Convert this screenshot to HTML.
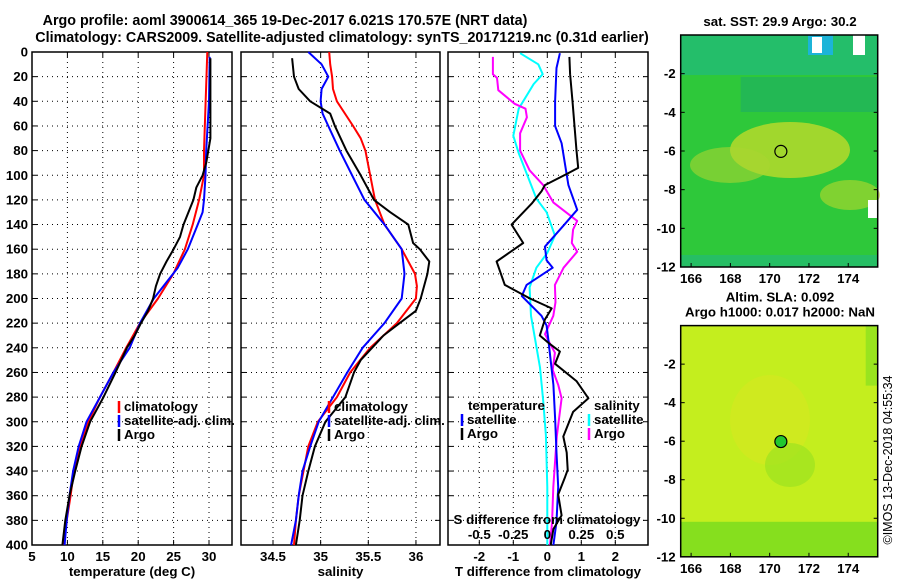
<!DOCTYPE html>
<html><head><meta charset="utf-8"><style>
html,body{margin:0;padding:0;background:#fff;}
svg{display:block;font-family:"Liberation Sans",sans-serif;font-weight:bold;}
</style></head><body>
<svg id="c" width="900" height="580" viewBox="0 0 900 580" xmlns="http://www.w3.org/2000/svg">
<text x="285" y="25" font-size="14.3" text-anchor="middle">Argo profile: aoml 3900614_365 19-Dec-2017 6.021S 170.57E (NRT data)</text>
<text x="342" y="42" font-size="14.3" text-anchor="middle">Climatology: CARS2009. Satellite-adjusted climatology: synTS_20171219.nc (0.31d earlier)</text>
<g id="maps"></g>
<text transform="translate(892,460) rotate(-90)" font-size="12.5" font-weight="normal" text-anchor="middle">©IMOS 13-Dec-2018 04:55:34</text>
</svg>
<script>
// ---- data (depth in m) ----
const tDepthClim=[0,80,100,120,140,160,180,200,220,240,260,280,300,320,340,360,380,400];
const tClim=[29.76,29.3,29.3,28.6,27.7,26.6,24.96,22.8,20.25,18.3,16.5,14.6,12.96,11.8,10.9,10.45,9.9,9.5];
const tDepthSat=[4,40,80,100,120,130,140,160,175,200,220,240,260,280,300,320,340,360,380,400];
const tSat=[30.1,30.0,29.6,29.5,29.3,29.1,28.4,27,25.6,22.2,20.25,18.8,16.5,14.6,12.7,11.6,10.8,10.3,9.9,9.6];
const tDepthArgo=[5,70,90,100,110,120,140,150,160,170,180,190,200,210,220,230,240,260,280,300,320,340,360,380,400];
const tArgo=[30.2,30.2,29.6,29.1,28.2,27.8,26.4,25.9,25,24,23.1,22.5,22.1,21.4,20.4,19.5,18.4,16.8,15.1,13.2,12,11.1,10.3,9.7,9.3];

const sDepthClim=[0,10,20,30,40,60,70,80,100,120,140,160,180,190,200,220,240,260,280,300,320,340,360,380,400];
const sClim=[35.09,35.1,35.12,35.13,35.17,35.34,35.42,35.47,35.52,35.57,35.67,35.85,35.99,36.01,36.0,35.8,35.52,35.31,35.17,34.97,34.87,34.82,34.77,34.74,34.72];
const sDepthSat=[0,10,20,30,40,50,60,80,100,120,140,160,180,200,220,240,260,280,300,320,340,360,380,400];
const sSat=[34.87,35.01,35.08,35.01,35.0,35.02,35.08,35.2,35.33,35.46,35.67,35.85,35.88,35.85,35.67,35.44,35.28,35.13,34.98,34.89,34.81,34.77,34.74,34.69];
const sDepthArgo=[5,20,30,40,50,60,80,100,120,130,140,155,160,170,180,200,210,220,230,250,260,280,300,320,340,360,380,400];
const sArgo=[34.7,34.72,34.77,34.89,35.1,35.15,35.27,35.42,35.56,35.73,35.92,35.97,36.04,36.14,36.12,36.05,36.0,35.83,35.66,35.42,35.35,35.26,35.05,34.94,34.87,34.81,34.78,34.74];

const dtDepthArgo=[4,18,40,80,94,99,108,113,123,140,155,170,189,200,208,217,230,237,243,253,267,281,292,312,325,339,345,359,376,387,400];
const dtArgo=[0.65,0.67,0.74,0.86,0.91,0.57,-0.07,-0.17,-0.46,-1.05,-0.71,-1.49,-1.25,-0.51,0.13,-0.07,-0.22,0.08,0.37,0.23,0.86,1.21,0.76,0.47,0.57,0.6,0.52,0.32,0.42,0.18,0.1];
const dtDepthSat=[1,13,40,60,74,96,108,128,141,158,169,175,189,198,214,222,233,270,297,325,353,381,400];
const dtSat=[0.37,0.27,0.23,0.23,0.42,0.55,0.62,0.88,0.47,-0.07,-0.02,0.16,-0.61,-0.75,-0.17,-0.02,0.03,0.18,0.23,0.27,0.32,0.27,0.18];
const dsDepthSat=[1,10,18,26,46,68,82,102,119,130,149,163,175,191,214,233,256,283,311,353,400];
const dsSat=[-0.2,-0.066,-0.034,-0.1,-0.21,-0.25,-0.21,-0.14,-0.08,-0.005,0.056,0,-0.08,-0.13,-0.12,-0.09,-0.054,-0.03,-0.01,0,0];
const dsDepthArgo=[4,18,21,31,42,46,53,66,80,96,108,122,137,144,155,162,175,189,203,214,229,244,258,270,281,312,353,381,400];
const dsArgo=[-0.4,-0.4,-0.37,-0.36,-0.24,-0.16,-0.15,-0.2,-0.2,-0.13,-0.03,0.044,0.22,0.19,0.18,0.22,0.12,0.056,0.06,0.044,-0.017,0.056,0.04,0.08,0.105,0.07,0.044,0.035,0.02];

const depthTicks=[0,20,40,60,80,100,120,140,160,180,200,220,240,260,280,300,320,340,360,380,400];
const tTicks=[5,10,15,20,25,30];
const sTicks=[34.5,35,35.5,36];
const dtTicks=[-2,-1,0,1,2];
const dsTicks=[-0.5,-0.25,0,0.25,0.5];
const dsTickLabels=["-0.5","-0.25","0","0.25","0.5"];
const latTicks=[-2,-4,-6,-8,-10,-12];
const lonTicks=[166,168,170,172,174];

const NS="http://www.w3.org/2000/svg";
const svg=document.getElementById('c');
const FS=13.3;
function el(tag,attrs,parent,text){const e=document.createElementNS(NS,tag);for(const k in attrs)e.setAttribute(k,attrs[k]);if(text!==undefined)e.textContent=text;(parent||svg).appendChild(e);return e;}

const Y0=52,Y1=545;
const yD=d=>Y0+(Y1-Y0)*d/400;

function panel(name,x0,x1,xmin,xmax,ticks,tickLabels,xlabel,showY){
  const g=el('g',{},svg);
  
  
  const sx=v=>x0+(x1-x0)*(v-xmin)/(xmax-xmin);
  depthTicks.forEach(d=>{
    const l=el('line',{x1:x0,x2:x1,y1:yD(d),y2:yD(d),stroke:'#000','stroke-width':1,'stroke-dasharray':'1,4'},g);
    
    
    el('line',{x1:x0,x2:x0+5,y1:yD(d),y2:yD(d),stroke:'#000'},g);
    el('line',{x1:x1-5,x2:x1,y1:yD(d),y2:yD(d),stroke:'#000'},g);
    if(showY){const t=el('text',{x:x0-4,y:yD(d)+4.5,'font-size':FS,'text-anchor':'end'},g,String(d));
      
      }
  });
  ticks.forEach((v,i)=>{
    const x=sx(v);
    const l=el('line',{x1:x,x2:x,y1:Y0,y2:Y1,stroke:'#000','stroke-width':1,'stroke-dasharray':'1,4'},g);
    
    
    el('line',{x1:x,x2:x,y1:Y1-5,y2:Y1,stroke:'#000'},g);
    el('line',{x1:x,x2:x,y1:Y0,y2:Y0+5,stroke:'#000'},g);
    const t=el('text',{x:x,y:Y1+16,'font-size':FS,'text-anchor':'middle'},g,tickLabels[i]);
    
    
  });
  const r=el('rect',{x:x0,y:Y0,width:x1-x0,height:Y1-Y0,fill:'none',stroke:'#000','stroke-width':1.5},g);
  
  
  const xl=el('text',{x:(x0+x1)/2,y:576,'font-size':FS,'text-anchor':'middle'},g,xlabel);
  
  
  return {g,sx};
}
function series(p,name,depths,vals,color,scale){
  const pts=vals.map((v,i)=>p.sx(v*(scale||1)).toFixed(1)+','+yD(depths[i]).toFixed(1)).join(' ');
  const pl=el('polyline',{points:pts,fill:'none',stroke:color,'stroke-width':2,'stroke-linejoin':'round'},p.g);
  
  
}
function legend(p,x,y,label,color){
  const m=el('line',{x1:x,x2:x,y1:y-10,y2:y+2,stroke:color,'stroke-width':2.5},p.g);
  
  
  const t=el('text',{x:x+5,y:y,'font-size':FS},p.g,label);
  
  
}

const p1=panel('temperature-panel',32,232,5,5+200/7.08,tTicks,tTicks.map(String),'temperature (deg C)',true);
series(p1,'temp-climatology',tDepthClim,tClim,'#f00');
series(p1,'temp-satellite-adj',tDepthSat,tSat,'#00f');
series(p1,'temp-argo',tDepthArgo,tArgo,'#000');
legend(p1,119,411,'climatology','#f00');legend(p1,119,425,'satellite-adj. clim.','#00f');legend(p1,119,439,'Argo','#000');

const p2=panel('salinity-panel',241,440,34.5-32/95.3,34.5+167/95.3,sTicks,sTicks.map(String),'salinity',false);
series(p2,'sal-climatology',sDepthClim,sClim,'#f00');
series(p2,'sal-satellite-adj',sDepthSat,sSat,'#00f');
series(p2,'sal-argo',sDepthArgo,sArgo,'#000');
legend(p2,329,411,'climatology','#f00');legend(p2,329,425,'satellite-adj. clim.','#00f');legend(p2,329,439,'Argo','#000');

const p3=panel('difference-panel',448,648,-99.3/34,100.7/34,dtTicks,dtTicks.map(String),'T difference from climatology',false);
series(p3,'sal-diff-satellite',dsDepthSat,dsSat,'#0ff',4);
series(p3,'sal-diff-argo',dsDepthArgo,dsArgo,'#f0f',4);
series(p3,'temp-diff-satellite',dtDepthSat,dtSat,'#00f');
series(p3,'temp-diff-argo',dtDepthArgo,dtArgo,'#000');
{const t=el('text',{x:468,y:410,'font-size':FS},p3.g,'temperature');
 const s=el('text',{x:594,y:410,'font-size':FS},p3.g,'salinity');}
legend(p3,462,424,'satellite','#00f');legend(p3,462,438,'Argo','#000');
legend(p3,589,424,'satellite','#0ff');legend(p3,589,438,'Argo','#f0f');
{const t=el('text',{x:547,y:524,'font-size':FS,'text-anchor':'middle'},p3.g,'S difference from climatology');
 dsTicks.forEach((v,i)=>{const tt=el('text',{x:p3.sx(v*4),y:539,'font-size':FS,'text-anchor':'middle'},p3.g,dsTickLabels[i]);});}

// ---- maps ----
const mg=document.getElementById('maps');
const MX0=680.7,MX1=877.7,LON0=165.47,LON1=175.5;
const mx=l=>MX0+(MX1-MX0)*(l-LON0)/(LON1-LON0);
function map(name,y0,y1,title,draw){
  const g=el('g',{},mg);
  
  
  const my=l=>y0+(y1-y0)*(-l)/12;
  draw(g,y0,y1);
  el('rect',{x:MX0,y:y0,width:MX1-MX0,height:y1-y0,fill:'none',stroke:'#000','stroke-width':1.5},g);
  latTicks.forEach(l=>{const t=el('text',{x:MX0-5,y:my(l)+4.5,'font-size':FS,'text-anchor':'end'},g,String(l));
    el('line',{x1:MX0,x2:MX0+4,y1:my(l),y2:my(l),stroke:'#000'},g);el('line',{x1:MX1-4,x2:MX1,y1:my(l),y2:my(l),stroke:'#000'},g);});
  lonTicks.forEach(l=>{const t=el('text',{x:mx(l),y:y1+16,'font-size':FS,'text-anchor':'middle'},g,String(l));
    el('line',{x1:mx(l),x2:mx(l),y1:y1-4,y2:y1,stroke:'#000'},g);});
  title.forEach((s,i)=>{const t=el('text',{x:780,y:y0-(title.length-i)*15+10-4,'font-size':FS,'text-anchor':'middle'},g,s);});
  const c=el('circle',{cx:mx(170.57),cy:my(-6.02),r:6,fill:'none',stroke:'#000','stroke-width':1.2},g);
  
  
  return c;
}
map('sst-map',35,267,['sat. SST: 29.9 Argo: 30.2'],(g,y0,y1)=>{
  el('rect',{x:MX0,y:y0,width:MX1-MX0,height:y1-y0,fill:'#2ec83a'},g);
  el('rect',{x:MX0,y:y0,width:MX1-MX0,height:40,fill:'#22bb77',opacity:0.8},g);
  el('rect',{x:MX0+60,y:y0+42,width:MX1-MX0-60,height:35,fill:'#1fb060',opacity:0.7},g);
  el('ellipse',{cx:790,cy:150,rx:60,ry:28,fill:'#c8dc2a',opacity:0.75},g);
  el('ellipse',{cx:730,cy:165,rx:40,ry:18,fill:'#aad630',opacity:0.6},g);
  el('ellipse',{cx:850,cy:195,rx:30,ry:15,fill:'#b8d82c',opacity:0.6},g);
  el('rect',{x:MX0,y:y1-12,width:MX1-MX0,height:12,fill:'#22b880',opacity:0.6},g);
  el('rect',{x:808,y:y0,width:25,height:20,fill:'#1cb4d8'},g);
  el('rect',{x:812,y:y0+2,width:10,height:16,fill:'#fff'},g);
  el('rect',{x:853,y:y0,width:12,height:20,fill:'#fff'},g);
  el('rect',{x:868,y:200,width:9,height:18,fill:'#fff'},g);
});
map('sla-map',325.6,556.8,['Altim. SLA: 0.092','Argo h1000: 0.017 h2000: NaN'],(g,y0,y1)=>{
  el('rect',{x:MX0,y:y0,width:MX1-MX0,height:y1-y0,fill:'#c4ee1e'},g);
  el('ellipse',{cx:770,cy:420,rx:40,ry:45,fill:'#d4e820',opacity:0.7},g);
  el('ellipse',{cx:790,cy:465,rx:25,ry:22,fill:'#9ce220',opacity:0.7},g);
  el('rect',{x:MX0,y:y1-35,width:MX1-MX0,height:35,fill:'#6cd81e',opacity:0.7},g);
  el('rect',{x:MX1-12,y:y0,width:12,height:60,fill:'#88e020',opacity:0.7},g);
}).setAttribute('fill','#22c830');
</script>
</body></html>
